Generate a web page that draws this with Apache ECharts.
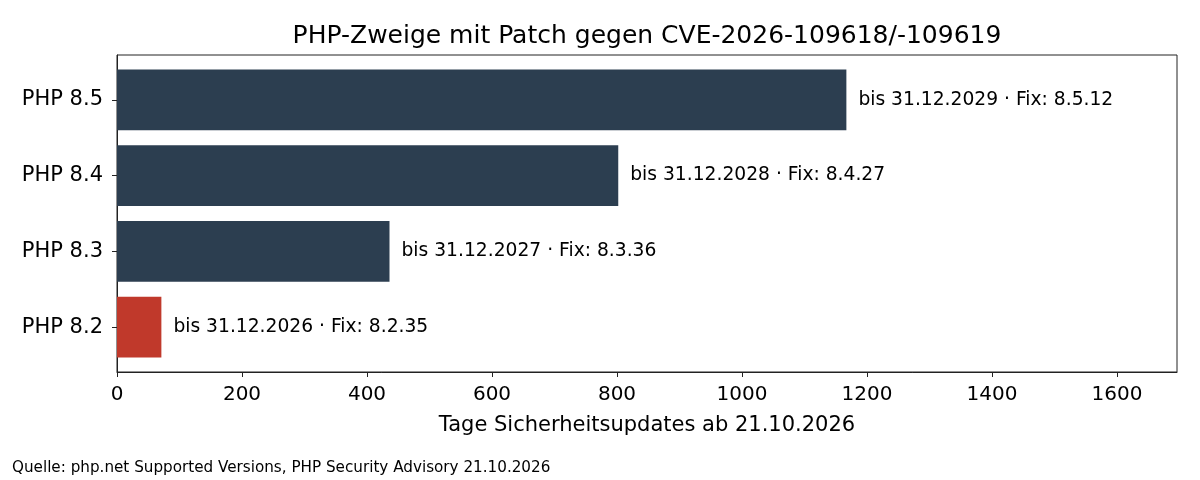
<!DOCTYPE html>
<html>
<head>
<meta charset="utf-8" />
<title>PHP-Zweige</title>
<style type="text/css">
  body, html, #main {width: 100%; height: 100%; margin: 0; overflow: hidden; background: #fff;}
</style>
<script src="https://cdn.jsdelivr.net/npm/echarts@6/dist/echarts.min.js"></script>
</head>
<body>
<div id="main" style="width:1200px;height:480px;"></div>
<script type="text/javascript">
// Daten (von unten nach oben, wie in der Vorlage)
var branches = ['PHP 8.2', 'PHP 8.3', 'PHP 8.4', 'PHP 8.5'];
var days = [71, 436, 802, 1167];          // Tage ab 21.10.2026
var endDates = ['31.12.2026', '31.12.2027', '31.12.2028', '31.12.2029'];
var fixes = ['8.2.35', '8.3.36', '8.4.27', '8.5.12'];
var barColors = ['#c0392b', '#2c3e50', '#2c3e50', '#2c3e50'];
var xTicks = [0, 200, 400, 600, 800, 1000, 1200, 1400, 1600];

var font = 'DejaVu Sans';
var axisColor = '#222';
var xMax = 1696;
var chart = echarts.init(document.getElementById('main'));

var data = [];
for (var i = 0; i < branches.length; i++) {
    data.push({
        value: days[i],
        itemStyle: {color: barColors[i]},
        label: {formatter: 'bis ' + endDates[i] + ' \u00b7 Fix: ' + fixes[i]}
    });
}

var option = {
    animation: false,
    textStyle: {fontFamily: font},
    title: {
        text: 'PHP-Zweige mit Patch gegen CVE-2026-109618/-109619',
        left: 642,
        top: 19,
        textAlign: 'center',
        textStyle: {fontFamily: font, fontSize: 25, fontWeight: 'normal', color: '#000'}
    },
    graphic: [{
        type: 'text',
        left: 12,
        top: 461,
        style: {
            text: 'Quelle: php.net Supported Versions, PHP Security Advisory 21.10.2026',
            font: '15.2px "DejaVu Sans"',
            fill: '#000'
        }
    }],
    // grid 0: Balkenbereich (ohne Rand), grid 1: Achsenrahmen wie matplotlib
    grid: [
        {left: 117, right: 23, top: 62, bottom: 115},
        {left: 117, right: 23, top: 55, bottom: 108,
         show: true, borderColor: axisColor, borderWidth: 1, backgroundColor: 'transparent'}
    ],
    xAxis: [{
        gridIndex: 0,
        type: 'value',
        min: 0,
        max: xMax,
        show: false
    }, {
        gridIndex: 1,
        type: 'value',
        min: 0,
        max: xMax,
        name: 'Tage Sicherheitsupdates ab 21.10.2026',
        nameLocation: 'middle',
        nameGap: 43,
        nameTextStyle: {fontFamily: font, fontSize: 21, color: '#000'},
        splitLine: {show: false},
        axisLine: {show: true, lineStyle: {color: axisColor, width: 1}},
        axisTick: {show: true, length: 5, lineStyle: {color: axisColor}, customValues: xTicks},
        axisLabel: {
            fontFamily: font, fontSize: 20, color: '#000', margin: 13,
            customValues: xTicks,
            formatter: function (v) { return String(v); }
        }
    }],
    yAxis: [{
        gridIndex: 0,
        type: 'category',
        data: branches,
        axisLine: {show: false},
        axisTick: {show: true, alignWithLabel: true, length: 5, lineStyle: {color: axisColor}},
        axisLabel: {fontFamily: font, fontSize: 21, color: '#000', margin: 14, padding: [4, 0, 0, 0]}
    }, {
        gridIndex: 1,
        type: 'value',
        min: 0,
        max: 1,
        splitLine: {show: false},
        axisLine: {show: true, lineStyle: {color: axisColor, width: 1}},
        axisTick: {show: false},
        axisLabel: {show: false}
    }],
    series: [{
        type: 'bar',
        xAxisIndex: 0,
        yAxisIndex: 0,
        barWidth: '80%',
        data: data,
        label: {
            show: true,
            position: 'right',
            distance: 12,
            fontFamily: font,
            fontSize: 18.7,
            color: '#000'
        }
    }]
};
chart.setOption(option);
</script>
</body>
</html>
